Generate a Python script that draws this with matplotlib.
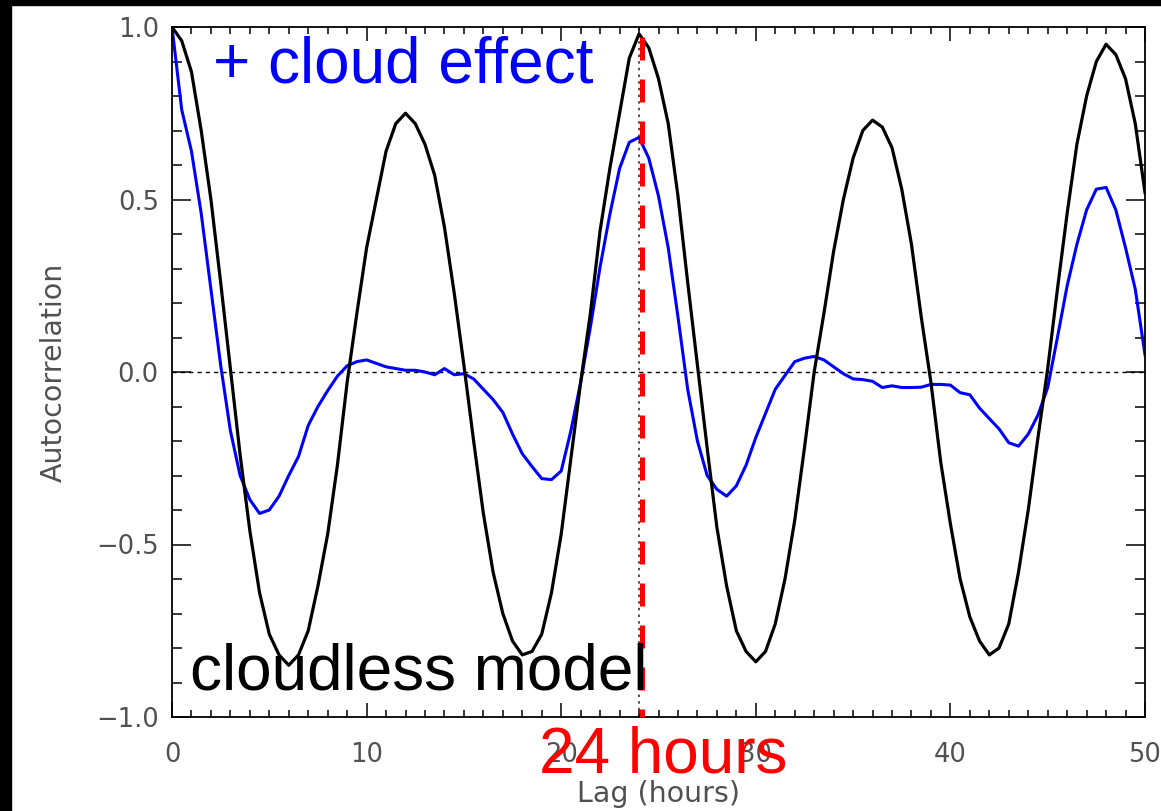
import numpy as np
import matplotlib.pyplot as plt
from matplotlib.patches import Rectangle
from matplotlib.ticker import MultipleLocator

# lag axis, half-hour steps
lag = np.arange(0, 50.5, 0.5)

# cloudless model autocorrelation (black)
cloudless = [1.00, 0.96, 0.87, 0.70, 0.50, 0.26, 0.01, -0.24, -0.46, -0.64,
             -0.76, -0.82, -0.85, -0.82, -0.75, -0.62, -0.47, -0.27, -0.03, 0.17,
             0.36, 0.50, 0.64, 0.72, 0.75, 0.72, 0.66, 0.57, 0.42, 0.23,
             0.02, -0.20, -0.41, -0.58, -0.70, -0.78, -0.82, -0.81, -0.76, -0.64,
             -0.47, -0.25, -0.03, 0.17, 0.41, 0.59, 0.75, 0.91, 0.98, 0.94,
             0.85, 0.72, 0.51, 0.26, 0.02, -0.22, -0.45, -0.62, -0.75, -0.81,
             -0.84, -0.81, -0.73, -0.60, -0.43, -0.22, 0.00, 0.17, 0.35, 0.50,
             0.62, 0.70, 0.73, 0.71, 0.65, 0.53, 0.37, 0.16, -0.03, -0.26,
             -0.44, -0.60, -0.71, -0.78, -0.82, -0.80, -0.73, -0.58, -0.40, -0.19,
             0.01, 0.24, 0.46, 0.66, 0.80, 0.90, 0.95, 0.92, 0.85, 0.72,
             0.52]

# with cloud effect (blue)
cloudy = [1.00, 0.76, 0.64, 0.46, 0.24, 0.02, -0.17, -0.30, -0.37, -0.41,
          -0.40, -0.36, -0.30, -0.245, -0.155, -0.10, -0.054, -0.012, 0.018, 0.03,
          0.035, 0.025, 0.015, 0.01, 0.005, 0.005, 0.0, -0.008, 0.01, -0.008,
          -0.005, -0.02, -0.05, -0.08, -0.117, -0.18, -0.237, -0.274, -0.309, -0.312,
          -0.287, -0.17, -0.03, 0.13, 0.305, 0.457, 0.59, 0.666, 0.68, 0.62,
          0.51, 0.36, 0.16, -0.05, -0.20, -0.30, -0.34, -0.36, -0.33, -0.27,
          -0.19, -0.12, -0.05, -0.01, 0.03, 0.04, 0.045, 0.035, 0.015, -0.005,
          -0.02, -0.022, -0.027, -0.045, -0.04, -0.045, -0.045, -0.044, -0.036, -0.036,
          -0.038, -0.06, -0.066, -0.105, -0.135, -0.165, -0.205, -0.215, -0.18, -0.125,
          -0.045, 0.10, 0.25, 0.37, 0.47, 0.53, 0.535, 0.47, 0.36, 0.24,
          0.05]

period_mark = 24
xticks = [0, 10, 20, 30, 40, 50]
yticks = [-1.0, -0.5, 0.0, 0.5, 1.0]

grey = '#505050'
fig = plt.figure(figsize=(11.61, 8.11), dpi=100)
ax = fig.add_axes([172/1161, 94/811, 973/1161, 690/811])

# black frame bits at the top and left edge of the slide
fig.patches.append(Rectangle((0, 1 - 5/811), 1, 5/811, transform=fig.transFigure,
                             color='black', zorder=0))
fig.patches.append(Rectangle((0, 0), 11/1161, 1, transform=fig.transFigure,
                             color='black', zorder=0))

ax.axhline(0, color='black', lw=1.0, ls=(0, (3, 3)), zorder=1)
ax.axvline(period_mark, color='#333333', lw=1.2, ls=(0, (1.5, 2.5)), zorder=1)

ax.plot(lag, cloudless, color='black', lw=2.3, zorder=3)
ax.plot(lag, cloudy, color='#0000ff', lw=2.2, zorder=2)

# red dashed marker for the 24 h lag
ax.plot([period_mark + 0.15, period_mark + 0.15], [1.0, -1.0], color='#ff0000',
        lw=3.6, ls=(6.4, (4.6, 3.8)), zorder=5, clip_on=False)

ax.set_xlim(0, 50)
ax.set_ylim(-1, 1)
ax.set_xticks(xticks)
ax.set_yticks(yticks)
ax.set_yticklabels(['\u22121.0', '\u22120.5', '0.0', '0.5', '1.0'])
ax.xaxis.set_minor_locator(MultipleLocator(1))
ax.yaxis.set_minor_locator(MultipleLocator(0.1))

ax.tick_params(which='both', direction='in', top=True, right=True, color='black', width=1.1)
ax.tick_params(axis='x', which='major', length=10, pad=18, labelsize=18.5, labelcolor=grey)
ax.tick_params(axis='x', which='minor', length=5)
ax.tick_params(axis='y', which='major', length=13.7, pad=9.5, labelsize=18.5, labelcolor=grey)
ax.tick_params(axis='y', which='minor', length=7)
for s in ax.spines.values():
    s.set_linewidth(1.3)

ax.set_xlabel('Lag (hours)', fontsize=20.5, color=grey, labelpad=9)
ax.set_ylabel('Autocorrelation', fontsize=20.5, color=grey, labelpad=20)

big = dict(family='Liberation Sans', fontsize=46, va='baseline', ha='left')
ax.text(2.1, 0.84, '+ cloud effect', color='#0000ff', zorder=6, **big)
ax.text(0.93, -0.92, 'cloudless model', color='black', zorder=6, **big)
ax.text(18.86, -1.162, '24 hours', color='#ff0000', zorder=10, clip_on=False, **big)

fig.savefig('out.png', dpi=100)
